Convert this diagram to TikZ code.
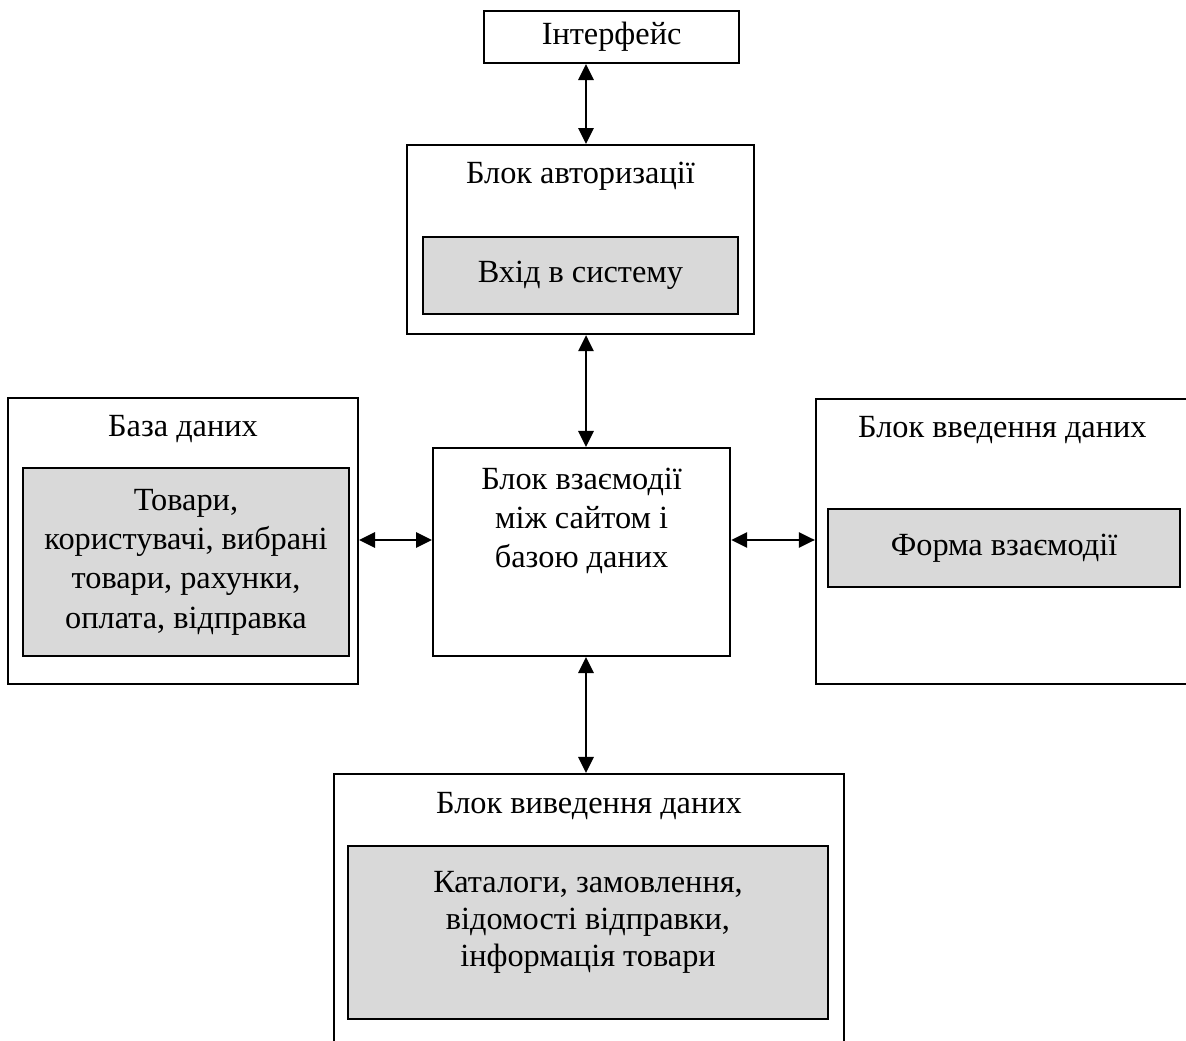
\documentclass[tikz,border=0pt]{standalone}
\usepackage{fontspec}
\setmainfont{Liberation Serif}
\usetikzlibrary{arrows.meta,calc}
\definecolor{boxgray}{HTML}{D9D9D9}
\tikzset{
	frame/.style={draw, line width=1.5pt, fill=white, inner sep=0pt},
	graybox/.style={draw, line width=1.5pt, fill=boxgray, align=center, inner sep=0pt},
	link/.style={{Triangle[length=0.4cm,width=0.38cm]}-{Triangle[length=0.4cm,width=0.38cm]}, line width=1.6pt}
}

\begin{document}
\begin{tikzpicture}[font=\fontsize{23}{28}\selectfont]
			\useasboundingbox (0,0) rectangle (29.65,26);
			\clip (0,0) rectangle (29.65,26);
			\fill[white] (0,0) rectangle (29.65,26);
			
			\coordinate (ax) at (14.65,0);  % vertical axis of the arrows
			\coordinate (ay) at (0,12.5);   % horizontal axis
			
			\node[frame, minimum width=6.375cm, minimum height=1.3cm] (iface) at (15.29,25.075) {Інтерфейс};
			
			\node[frame, minimum width=8.675cm, minimum height=4.725cm] (auth) at (14.51,20.01) {};
			\node (authT) at ($(auth.north)+(0,-0.8)$) {Блок авторизації};
			\node[graybox, minimum width=7.875cm, minimum height=1.925cm] (login) at (14.51,19.1125) {Вхід в систему};
			
			\node[frame, minimum width=7.425cm, minimum height=5.2cm] (mid) at (14.54,12.2) {};
			\node[align=center] (midT) at ($(mid.north)+(0,-1.85)$) {Блок взаємодії\\між сайтом і\\базою даних};
			
			\node[frame, minimum width=8.75cm, minimum height=7.15cm] (db) at (4.575,12.475) {};
			\node (dbT) at ($(db.north)+(0,-0.8)$) {База даних};
			\node[graybox, minimum width=8.15cm, minimum height=4.7cm] (dbIn) at (4.65,11.95) {Товари,\\користувачі, вибрані\\товари, рахунки,\\оплата, відправка};
			
			\node[frame, minimum width=9.325cm, minimum height=7.125cm] (inp) at (25.06,12.46) {};
			\node (inpT) at ($(inp.north)+(0,-0.8)$) {Блок введення даних};
			\node[graybox, minimum width=8.8cm, minimum height=1.95cm] (form) at (25.1,12.3) {Форма взаємодії};
			
			\node[frame, minimum width=12.75cm, minimum height=6.775cm] (out) at (14.725,3.2625) {};
			\node (outT) at ($(out.north)+(0,-0.825)$) {Блок виведення даних};
			\node[graybox, minimum width=12cm, minimum height=4.325cm] (outIn) at (14.7,2.6875) {};
			\node[align=center, font=\fontsize{23}{26.5}\selectfont] (outInT) at ($(outIn.center)+(0,0.25)$) {Каталоги, замовлення,\\відомості відправки,\\інформація товари};
			
			\draw[link] (iface.south -| ax) -- (auth.north -| ax);
			\draw[link] (auth.south -| ax) -- (mid.north -| ax);
			\draw[link] (mid.south -| ax) -- (out.north -| ax);
			\draw[link] (db.east |- ay) -- (mid.west |- ay);
			\draw[link] (mid.east |- ay) -- (inp.west |- ay);
\end{tikzpicture}
\end{document}
